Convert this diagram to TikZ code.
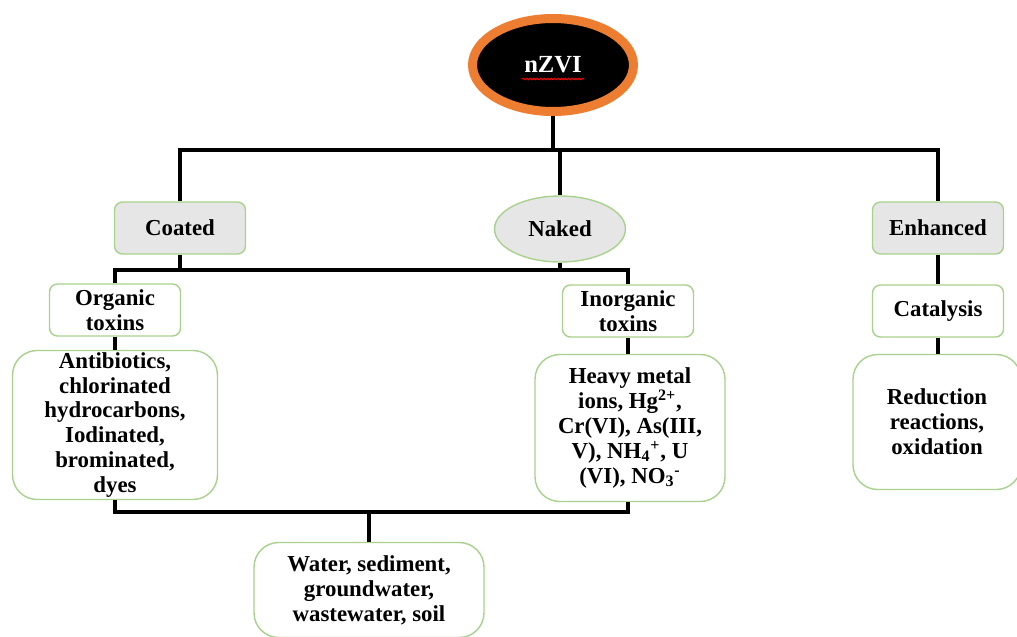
\documentclass[tikz,border=0pt]{standalone}
\usepackage{fontspec}
\setmainfont{Liberation Serif}
\usetikzlibrary{positioning, shapes.geometric, decorations.pathmorphing}
\definecolor{zorange}{HTML}{ED7D31}
\definecolor{zgreen}{HTML}{A9D18E}
\definecolor{zgray}{HTML}{E7E6E6}

\begin{document}
\begin{tikzpicture}[x=0.02cm, y=-0.02cm,
    every node/.style={font=\fontsize{13}{14.2}\selectfont\bfseries, align=center, inner sep=1pt},
    bx/.style={draw=zgreen, fill=white, line width=0.8pt, rounded corners=4.5pt, minimum width=2.62cm, minimum height=1.04cm},
    hd/.style={bx, fill=zgray},
    big/.style={bx, rounded corners=14pt},
    ln/.style={line width=2.2pt}]
  \useasboundingbox (0,0) rectangle (1017,636);
  % top
  \node[ellipse, fill=black, draw=zorange, line width=0.18cm, minimum width=3.22cm, minimum height=1.86cm, text=white, font=\fontsize{14}{16}\selectfont\bfseries] (nzvi) at (553,65) {nZVI};
  \draw[red, line width=0.6pt, decorate, decoration={snake, amplitude=0.4pt, segment length=2pt}]
    ([xshift=-0.62cm, yshift=-0.28cm]nzvi.center) -- ([xshift=0.62cm, yshift=-0.28cm]nzvi.center);
  % second row
  \node[hd] (coated) at (180,228) {Coated};
  \node[hd, ellipse, sharp corners, minimum height=1.32cm] (naked) at (560,229) {Naked};
  \node[hd] (enhanced) at (938,228) {Enhanced};
  % third row
  \node[bx] (organic) at (115,310) {Organic\\toxins};
  \node[bx] (inorganic) at (628,311) {Inorganic\\toxins};
  \node[bx] (catalysis) at (938,311) {Catalysis};
  % detail boxes
  \node[big, minimum width=4.1cm, minimum height=2.98cm] (anti) at (115,425)
    {Antibiotics,\\chlorinated\\hydrocarbons,\\Iodinated,\\brominated,\\dyes};
  \node[big, minimum width=3.8cm, minimum height=2.94cm] (heavy) at (630,428)
    {Heavy metal\\ions, Hg\textsuperscript{2+},\\Cr(VI), As(III,\\V), NH\textsubscript{4}\textsuperscript{+}, U\\(VI), NO\textsubscript{3}\textsuperscript{-}};
  \node[big, minimum width=3.36cm, minimum height=2.7cm] (reduction) at (937,422)
    {Reduction\\reactions,\\oxidation};
  \node[big, minimum width=4.6cm, minimum height=1.9cm] (water) at (369,590)
    {Water, sediment,\\groundwater,\\wastewater, soil};
  % connectors
  \coordinate (top) at (0,150);
  \coordinate (mid) at (0,270);
  \coordinate (low) at (0,512);
  \draw[ln] (nzvi.south) -- (nzvi.south |- top);
  \draw[ln] (coated.north) |- (enhanced.north |- top) -- (enhanced.north);
  \draw[ln] (naked.north) -- (naked.north |- top);
  \draw[ln] (coated.south) -- (coated.south |- mid);
  \draw[ln] (naked.south) -- (naked.south |- mid);
  \draw[ln] (organic.north) |- (inorganic.north |- mid) -- (inorganic.north);
  \draw[ln] (organic.south) -- (anti.north);
  \draw[ln] (inorganic.south) -- (inorganic.south |- heavy.north);
  \draw[ln] (anti.south) |- (inorganic.south |- low) -- (inorganic.south |- heavy.south);
  \draw[ln] (water.north) -- (water.north |- low);
  \draw[ln] (enhanced) -- (catalysis);
  \draw[ln] (catalysis) -- (catalysis |- reduction.north);
\end{tikzpicture}
\end{document}
